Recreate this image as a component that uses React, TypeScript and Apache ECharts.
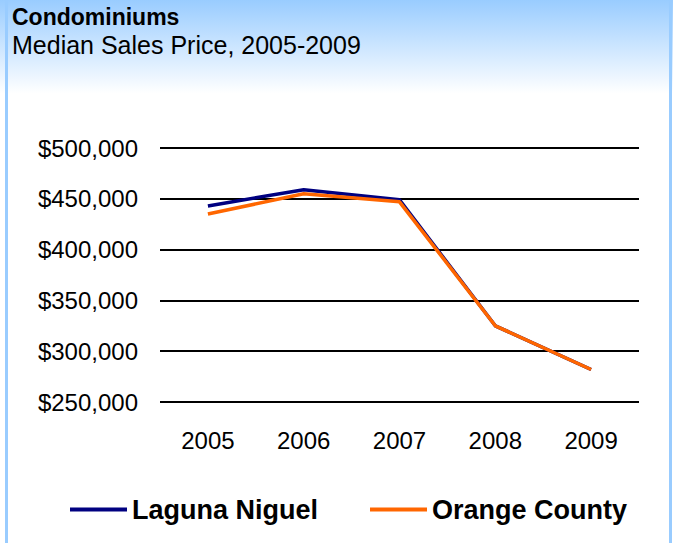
import React, { useEffect, useRef } from "react";
import * as echarts from "echarts";

const categories = ["2005", "2006", "2007", "2008", "2009"];
const lagunaNiguel = [443000, 459000, 449000, 325000, 282000];
const orangeCounty = [435000, 455000, 447000, 325000, 282000];
const yTicks = { min: 250000, max: 500000, interval: 50000 };

const FONT = "'Liberation Sans', Arial, sans-serif";

export default function App() {
  const ref = useRef<HTMLDivElement>(null);
  useEffect(() => {
    document.body.style.margin = "0";
    const chart = echarts.init(ref.current!, null, { renderer: "svg" });
    chart.setOption({
      animation: false,
      backgroundColor: "#ffffff",
      graphic: [
        {
          type: "rect",
          z: -10,
          silent: true,
          shape: { x: 0, y: 0, width: 673, height: 110 },
          style: {
            fill: new echarts.graphic.LinearGradient(0, 0, 0, 1, [
              { offset: 0, color: "#99CCFF" },
              { offset: 0.85, color: "#ffffff" },
              { offset: 1, color: "#ffffff" },
            ]),
          },
        },
        {
          type: "rect",
          z: -9,
          silent: true,
          shape: { x: 5, y: 0, width: 3, height: 543 },
          style: { fill: "#99CCFF" },
        },
        {
          type: "rect",
          z: -9,
          silent: true,
          shape: { x: 669, y: 0, width: 3, height: 543 },
          style: { fill: "#99CCFF" },
        },
      ],
      title: {
        text: "Condominiums",
        subtext: "Median Sales Price, 2005-2009",
        left: 12,
        top: 5,
        padding: 0,
        itemGap: 4,
        textStyle: { fontFamily: FONT, fontSize: 23, fontWeight: "bold", color: "#000" },
        subtextStyle: { fontFamily: FONT, fontSize: 25, color: "#000" },
      },
      legend: {
        left: 70,
        top: 496,
        padding: 0,
        itemWidth: 57,
        itemHeight: 4,
        itemGap: 52,
        icon: "rect",
        textStyle: { fontFamily: FONT, fontSize: 27, fontWeight: "bold", color: "#000" },
        data: ["Laguna Niguel", "Orange County"],
      },
      grid: { left: 160, right: 34, top: 148, bottom: 141 },
      xAxis: {
        type: "category",
        data: categories,
        boundaryGap: true,
        axisLine: { show: false },
        axisTick: { show: false },
        axisLabel: { fontFamily: FONT, fontSize: 24, color: "#000", margin: 26 },
      },
      yAxis: {
        type: "value",
        min: yTicks.min,
        max: yTicks.max,
        interval: yTicks.interval,
        axisLine: { show: false },
        axisTick: { show: false },
        splitLine: { lineStyle: { color: "#000", width: 2 } },
        axisLabel: {
          fontFamily: FONT,
          fontSize: 24,
          color: "#000",
          margin: 22,
          formatter: (v: number) => "$" + v.toLocaleString("en-US"),
        },
      },
      series: [
        {
          name: "Laguna Niguel",
          type: "line",
          data: lagunaNiguel,
          showSymbol: false,
          symbol: "none",
          lineStyle: { color: "#000080", width: 3.5 },
          itemStyle: { color: "#000080" },
          z: 2,
        },
        {
          name: "Orange County",
          type: "line",
          data: orangeCounty,
          showSymbol: false,
          symbol: "none",
          lineStyle: { color: "#FF6600", width: 3.5 },
          itemStyle: { color: "#FF6600" },
          z: 3,
        },
      ],
    });
    return () => chart.dispose();
  }, []);
  return <div ref={ref} style={{ width: 673, height: 543 }} />;
}
